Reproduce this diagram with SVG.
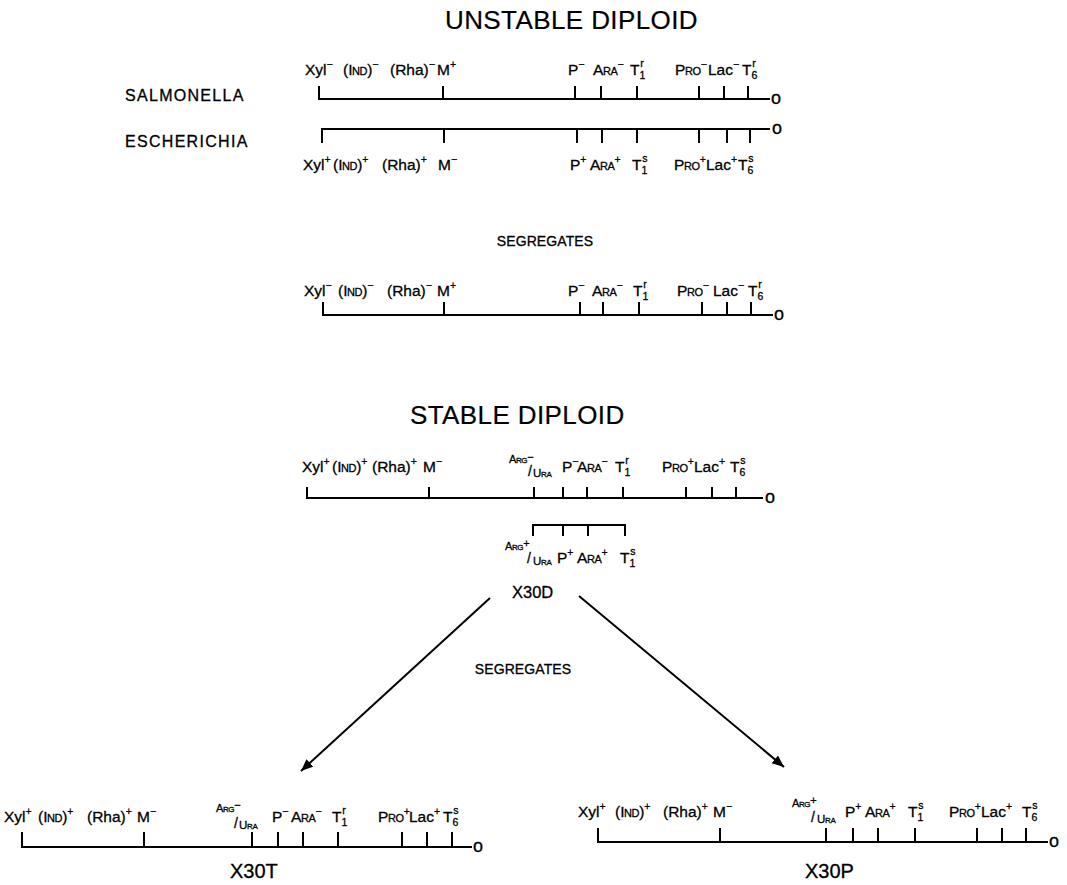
<svg xmlns="http://www.w3.org/2000/svg" width="1067" height="885" viewBox="0 0 1067 885">
<style>
text{font-family:"Liberation Sans",Arial,sans-serif;fill:#000;font-size:15.5px;stroke:#000;stroke-width:0.3}
.s{font-size:10.5px}
.sc{font-variant:small-caps;letter-spacing:-0.4px}
.fr{font-size:11px}
.fu{font-size:11.5px;font-variant:small-caps;letter-spacing:-0.3px}
.sl{font-size:14px}
.o{font-size:18px}
.ttl{font-size:26px;letter-spacing:0.4px;stroke-width:0.2}
.hd{font-size:16px;letter-spacing:1.3px}
.seg{font-size:14px;letter-spacing:0.1px}
.id{font-size:20px}
.ln{stroke:#000;stroke-width:2;fill:none}
</style>
<defs>
<marker id="ah" markerUnits="userSpaceOnUse" markerWidth="14" markerHeight="12" refX="12" refY="5" orient="auto">
<path d="M0,0 L12,5 L0,10 Z" fill="#000"/>
</marker>
</defs>
<rect width="1067" height="885" fill="#fff"/>

<g id="titles">
<text class="ttl" x="445" y="29">UNSTABLE DIPLOID</text>
<text class="hd" x="125" y="101">SALMONELLA</text>
<text class="hd" x="125" y="147">ESCHERICHIA</text>
<text class="seg" x="545" y="246" text-anchor="middle">SEGREGATES</text>
<text class="ttl" x="410" y="424">STABLE DIPLOID</text>
<text class="seg" x="523" y="674" text-anchor="middle">SEGREGATES</text>
</g>

<g id="map-salmonella">
<path class="ln" d="M319,86 V99 H770 M443,86 V99 M575,86 V99 M601,86 V99 M637,86 V99 M699,86 V99 M724,86 V99 M748,86 V99"/>
<text class="o" x="771" y="104">o</text>
<text x="305" y="75">Xyl<tspan class="s" dy="-7">−</tspan></text>
<text x="343" y="75">(<tspan class="sc">Ind</tspan>)<tspan class="s" dy="-7">−</tspan></text>
<text x="390" y="75">(Rha)<tspan class="s" dy="-7">−</tspan></text>
<text x="437" y="75">M<tspan class="s" dy="-7">+</tspan></text>
<text x="568" y="75">P<tspan class="s" dy="-7">−</tspan></text>
<text x="593" y="75"><tspan class="sc">Ara</tspan><tspan class="s" dy="-7">−</tspan></text>
<text x="630" y="75">T<tspan class="s" dy="4">1</tspan><tspan class="s" dx="-5" dy="-12">r</tspan></text>
<text x="675" y="75"><tspan class="sc">Pro</tspan><tspan class="s" dy="-7">−</tspan></text>
<text x="708" y="75">Lac<tspan class="s" dy="-7">−</tspan></text>
<text x="742" y="75">T<tspan class="s" dy="4">6</tspan><tspan class="s" dx="-5" dy="-12">r</tspan></text>
</g>

<g id="map-escherichia">
<path class="ln" d="M322,143 V129 H770 M444,129 V143 M577,129 V143 M602,129 V143 M637,129 V143 M699,129 V143 M727,129 V143 M750,129 V143"/>
<text class="o" x="772" y="134">o</text>
<text x="303" y="170">Xyl<tspan class="s" dy="-7">+</tspan></text>
<text x="333" y="170">(<tspan class="sc">Ind</tspan>)<tspan class="s" dy="-7">+</tspan></text>
<text x="382" y="170">(Rha)<tspan class="s" dy="-7">+</tspan></text>
<text x="438" y="170">M<tspan class="s" dy="-7">−</tspan></text>
<text x="570" y="170">P<tspan class="s" dy="-7">+</tspan></text>
<text x="590" y="170"><tspan class="sc">Ara</tspan><tspan class="s" dy="-7">+</tspan></text>
<text x="632" y="170">T<tspan class="s" dy="4">1</tspan><tspan class="s" dx="-5" dy="-12">s</tspan></text>
<text x="674" y="170"><tspan class="sc">Pro</tspan><tspan class="s" dy="-7">+</tspan></text>
<text x="706" y="170">Lac<tspan class="s" dy="-7">+</tspan></text>
<text x="738" y="170">T<tspan class="s" dy="4">6</tspan><tspan class="s" dx="-5" dy="-12">s</tspan></text>
</g>

<g id="map-segregates-unstable">
<path class="ln" d="M323,302 V315 H773 M444,302 V315 M580,302 V315 M603,302 V315 M639,302 V315 M702,302 V315 M727,302 V315 M751,302 V315"/>
<text class="o" x="774" y="320">o</text>
<text x="304" y="296">Xyl<tspan class="s" dy="-7">−</tspan></text>
<text x="338" y="296">(<tspan class="sc">Ind</tspan>)<tspan class="s" dy="-7">−</tspan></text>
<text x="387" y="296">(Rha)<tspan class="s" dy="-7">−</tspan></text>
<text x="437" y="296">M<tspan class="s" dy="-7">+</tspan></text>
<text x="568" y="296">P<tspan class="s" dy="-7">−</tspan></text>
<text x="592" y="296"><tspan class="sc">Ara</tspan><tspan class="s" dy="-7">−</tspan></text>
<text x="633" y="296">T<tspan class="s" dy="4">1</tspan><tspan class="s" dx="-5" dy="-12">r</tspan></text>
<text x="677" y="296"><tspan class="sc">Pro</tspan><tspan class="s" dy="-7">−</tspan></text>
<text x="713" y="296">Lac<tspan class="s" dy="-7">−</tspan></text>
<text x="748" y="296">T<tspan class="s" dy="4">6</tspan><tspan class="s" dx="-5" dy="-12">r</tspan></text>
</g>

<g id="map-stable">
<path class="ln" d="M307,487 V498 H763 M429,487 V498 M534,487 V498 M563,487 V498 M587,487 V498 M623,487 V498 M686,487 V498 M712,487 V498 M736,487 V498"/>
<text class="o" x="765" y="503">o</text>
<text x="302" y="472">Xyl<tspan class="s" dy="-7">+</tspan></text>
<text x="332" y="472">(<tspan class="sc">Ind</tspan>)<tspan class="s" dy="-7">+</tspan></text>
<text x="372" y="472">(Rha)<tspan class="s" dy="-7">+</tspan></text>
<text x="423" y="472">M<tspan class="s" dy="-7">−</tspan></text>
<text class="fr" x="509" y="463"><tspan class="sc">Arg</tspan><tspan dy="-2">−</tspan></text>
<text class="sl" x="528" y="476">/</text>
<text class="fu" x="533" y="477">Ura</text>
<text x="562" y="472">P<tspan class="s" dy="-7">−</tspan></text>
<text x="577" y="472"><tspan class="sc">Ara</tspan><tspan class="s" dy="-7">−</tspan></text>
<text x="615" y="472">T<tspan class="s" dy="4">1</tspan><tspan class="s" dx="-5" dy="-12">r</tspan></text>
<text x="662" y="472"><tspan class="sc">Pro</tspan><tspan class="s" dy="-7">+</tspan></text>
<text x="694" y="472">Lac<tspan class="s" dy="-7">+</tspan></text>
<text x="730" y="472">T<tspan class="s" dy="4">6</tspan><tspan class="s" dx="-5" dy="-12">s</tspan></text>
</g>

<g id="fragment-X30D">
<path class="ln" d="M533,536 V525 H625 V536 M563,525 V536 M588,525 V536"/>
<text class="fr" x="505" y="550"><tspan class="sc">Arg</tspan><tspan dy="-3">+</tspan></text>
<text class="sl" x="527" y="563">/</text>
<text class="fu" x="533" y="565">Ura</text>
<text x="557" y="563">P<tspan class="s" dy="-7">+</tspan></text>
<text x="577" y="563"><tspan class="sc">Ara</tspan><tspan class="s" dy="-7">+</tspan></text>
<text x="620" y="563">T<tspan class="s" dy="4">1</tspan><tspan class="s" dx="-5" dy="-12">s</tspan></text>
<text x="512" y="598" style="font-size:16.5px">X30D</text>
</g>

<g id="map-X30T">
<path class="ln" d="M22,832 V847 H472 M144,832 V847 M252,832 V847 M278,832 V847 M303,832 V847 M338,832 V847 M402,832 V847 M427,832 V847 M452,832 V847"/>
<text class="o" x="473" y="852">o</text>
<text x="4" y="822">Xyl<tspan class="s" dy="-7">+</tspan></text>
<text x="38" y="822">(<tspan class="sc">Ind</tspan>)<tspan class="s" dy="-7">+</tspan></text>
<text x="87" y="822">(Rha)<tspan class="s" dy="-7">+</tspan></text>
<text x="137" y="822">M<tspan class="s" dy="-7">−</tspan></text>
<text class="fr" x="216" y="812"><tspan class="sc">Arg</tspan><tspan dy="-3">−</tspan></text>
<text class="sl" x="234" y="828">/</text>
<text class="fu" x="239" y="829">Ura</text>
<text x="272" y="822">P<tspan class="s" dy="-7">−</tspan></text>
<text x="291" y="822"><tspan class="sc">Ara</tspan><tspan class="s" dy="-7">−</tspan></text>
<text x="332" y="822">T<tspan class="s" dy="4">1</tspan><tspan class="s" dx="-5" dy="-12">r</tspan></text>
<text x="378" y="822"><tspan class="sc">Pro</tspan><tspan class="s" dy="-7">+</tspan></text>
<text x="409" y="822">Lac<tspan class="s" dy="-7">+</tspan></text>
<text x="443" y="822">T<tspan class="s" dy="4">6</tspan><tspan class="s" dx="-5" dy="-12">s</tspan></text>
<text class="id" x="230" y="878">X30T</text>
</g>

<g id="map-X30P">
<path class="ln" d="M598,828 V842 H1048 M720,828 V842 M826,828 V842 M853,828 V842 M878,828 V842 M915,828 V842 M977,828 V842 M1002,828 V842 M1026,828 V842"/>
<text class="o" x="1049" y="847">o</text>
<text x="578" y="817">Xyl<tspan class="s" dy="-7">+</tspan></text>
<text x="615" y="817">(<tspan class="sc">Ind</tspan>)<tspan class="s" dy="-7">+</tspan></text>
<text x="663" y="817">(Rha)<tspan class="s" dy="-7">+</tspan></text>
<text x="713" y="817">M<tspan class="s" dy="-7">−</tspan></text>
<text class="fr" x="792" y="807"><tspan class="sc">Arg</tspan><tspan dy="-3">+</tspan></text>
<text class="sl" x="811" y="822">/</text>
<text class="fu" x="817" y="823">Ura</text>
<text x="845" y="817">P<tspan class="s" dy="-7">+</tspan></text>
<text x="865" y="817"><tspan class="sc">Ara</tspan><tspan class="s" dy="-7">+</tspan></text>
<text x="908" y="817">T<tspan class="s" dy="4">1</tspan><tspan class="s" dx="-5" dy="-12">s</tspan></text>
<text x="949" y="817"><tspan class="sc">Pro</tspan><tspan class="s" dy="-7">+</tspan></text>
<text x="981" y="817">Lac<tspan class="s" dy="-7">+</tspan></text>
<text x="1022" y="817">T<tspan class="s" dy="4">6</tspan><tspan class="s" dx="-5" dy="-12">s</tspan></text>
<text class="id" x="805" y="878">X30P</text>
</g>

<g id="connectors">
<line class="ln" x1="490" y1="598" x2="301" y2="771" marker-end="url(#ah)"/>
<line class="ln" x1="579" y1="596" x2="784" y2="767" marker-end="url(#ah)"/>
</g>
</svg>
